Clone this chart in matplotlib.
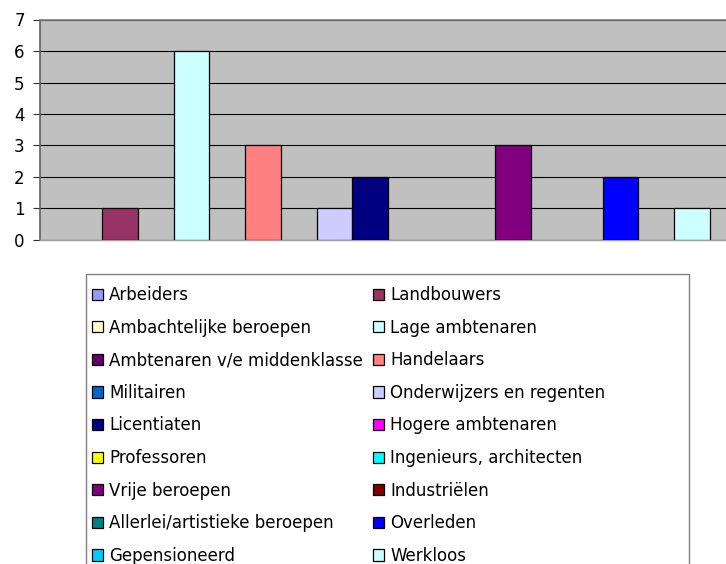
import numpy as np
import matplotlib
matplotlib.use("Agg")
import matplotlib.pyplot as plt
from matplotlib.patches import Patch, Rectangle

plt.rcParams["font.family"] = ["DejaVu Sans"]

categories = [
    "Arbeiders", "Landbouwers", "Ambachtelijke beroepen", "Lage ambtenaren",
    "Ambtenaren v/e middenklasse", "Handelaars", "Militairen",
    "Onderwijzers en regenten", "Licentiaten", "Hogere ambtenaren",
    "Professoren", "Ingenieurs, architecten", "Vrije beroepen", "Industriëlen",
    "Allerlei/artistieke beroepen", "Overleden", "Gepensioneerd", "Werkloos",
]
values = [0, 1, 0, 6, 0, 3, 0, 1, 2, 0, 0, 0, 3, 0, 0, 2, 0, 1]
colors = [
    "#9999FF", "#993366", "#FFFFCC", "#CCFFFF", "#660066", "#FF8080",
    "#0066CC", "#CCCCFF", "#000080", "#FF00FF", "#FFFF00", "#00FFFF",
    "#800080", "#800000", "#008080", "#0000FF", "#00CCFF", "#CCFFFF",
]
y_ticks = [0, 1, 2, 3, 4, 5, 6, 7]

W, H = 726, 564
DPI = 100
fig = plt.figure(figsize=(W / DPI, H / DPI), dpi=DPI)
fig.patch.set_facecolor("white")

# plot area (right side cropped by figure edge, as in the reference)
ax_left, ax_top, ax_bottom = 40, 19.5, 240
ax = fig.add_axes([ax_left / W, 1 - ax_bottom / H, (W - ax_left) / W, (ax_bottom - ax_top) / H])
ax.set_facecolor("#C0C0C0")

x = np.arange(len(categories))
edge = ["black" if v > 0 else "none" for v in values]
ax.bar(x, values, width=1.0, color=colors, edgecolor=edge, linewidth=0.9, zorder=3)

ax.set_xlim(-1.238, 17.951)
ax.set_ylim(0, 7)
ax.set_yticks(y_ticks)
ax.set_yticklabels([str(t) for t in y_ticks])
ax.set_xticks([])
ax.yaxis.grid(True, color="black", linewidth=0.8)
ax.set_axisbelow(True)
ax.spines["right"].set_visible(False)
ax.spines["top"].set_color("#808080")
ax.spines["top"].set_linewidth(1.2)
ax.spines["left"].set_color("#606060")
ax.spines["left"].set_linewidth(1.2)
ax.spines["bottom"].set_color("#A0A0A0")
ax.spines["bottom"].set_linewidth(1.0)
ax.tick_params(axis="y", direction="out", length=5, width=0.8, color="#303030",
               pad=6, labelsize=12)

# legend (row-wise order in 2 columns)
handles = [Patch(facecolor=c, edgecolor="black", linewidth=0.9) for c in colors]
order = list(range(0, len(categories), 2)) + list(range(1, len(categories), 2))
fs = 12
fs_px = fs * DPI / 72
hl = 11 / fs_px


def make_leg(ls, cs, anchor):
    return fig.legend([handles[i] for i in order], [categories[i] for i in order],
                      ncol=2, loc="upper left", bbox_to_anchor=anchor,
                      bbox_transform=fig.transFigure, frameon=False, fontsize=fs,
                      handlelength=hl, handleheight=hl, handletextpad=6 / fs_px,
                      columnspacing=cs, labelspacing=ls, borderpad=0, borderaxespad=0)


ls, cs = 0.7, 0.5
anchor = [92.3 / W, 1 - 280 / H]
leg = make_leg(ls, cs, tuple(anchor))
for _ in range(4):
    fig.canvas.draw()
    r = fig.canvas.get_renderer()
    t = leg.get_texts()
    b0 = t[0].get_window_extent(r)
    b8 = t[8].get_window_extent(r)
    b9 = t[9].get_window_extent(r)
    _, _, d = r.get_text_width_height_descent("lp", t[0].get_fontproperties(), ismath=False)
    pitch = (b0.y0 - b8.y0) / 8
    ls += (32.6 - pitch) / fs_px
    cs += (390 - b9.x0) / fs_px
    anchor[0] += (109.3 - b0.x0) / W
    anchor[1] += ((H - 300) - (b0.y0 + d)) / H
    leg.remove()
    leg = make_leg(ls, cs, tuple(anchor))

frame = Rectangle((85.7 / W, -0.1), (689.3 - 85.7) / W, (H - 274.3) / H + 0.1,
                  transform=fig.transFigure, fill=False, edgecolor="#808080",
                  linewidth=1.0)
fig.add_artist(frame)

fig.savefig("out.png", dpi=DPI)
